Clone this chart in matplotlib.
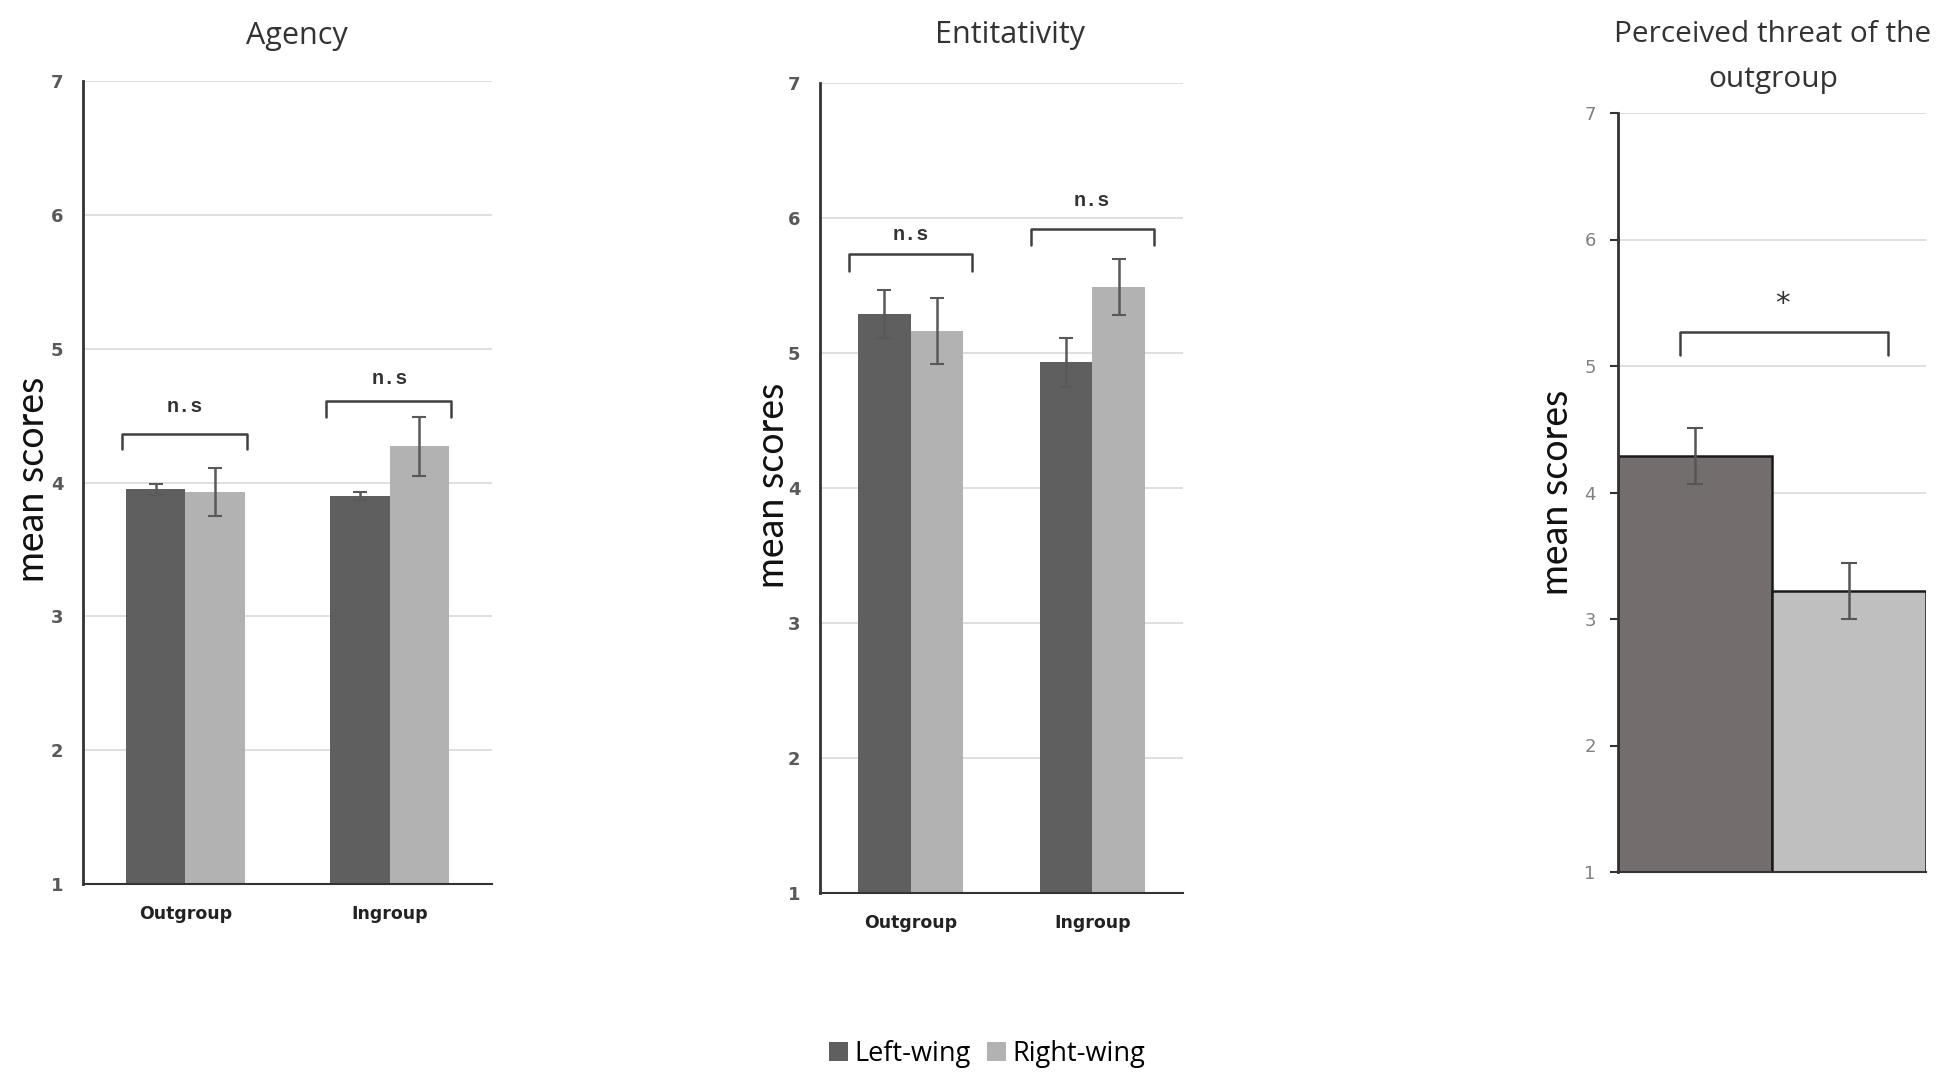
import matplotlib.pyplot as plt
from matplotlib.patches import Patch

# Данные
groups = ['Outgroup', 'Ingroup']
series = ['Left-wing', 'Right-wing']

agency_left = [3.95, 3.90]
agency_left_err = [0.04, 0.03]
agency_right = [3.93, 4.27]
agency_right_err = [0.18, 0.22]

entit_left = [5.29, 4.93]
entit_left_err = [0.18, 0.18]
entit_right = [5.16, 5.49]
entit_right_err = [0.245, 0.21]

threat_means = [4.29, 3.22]
threat_err = [0.22, 0.22]

yticks = [1, 2, 3, 4, 5, 6, 7]
sig_pairs = ['n.s', 'n.s']
sig_threat = '*'

DARK = '#5f5f5f'
LIGHT = '#b2b2b2'
GRID = '#d9d9d9'
W, H = 1951, 1084


def fx(px):
    return px / W


def fy(py):
    return 1 - py / H


def bracket(ax, x0, x1, ytop, yend, lw=1.8, color='#404040'):
    ax.plot([x0, x0, x1, x1], [yend, ytop, ytop, yend], color=color, lw=lw,
            solid_joinstyle='round', solid_capstyle='round', clip_on=False)


def style_axis(ax, tick_color='#595959', bold=True):
    ax.set_ylim(1, 7)
    ax.set_xlim(-0.5, 1.5)
    ax.set_yticks(yticks)
    ax.yaxis.grid(True, color=GRID, lw=1.2)
    ax.set_axisbelow(True)
    for s in ['top', 'right']:
        ax.spines[s].set_visible(False)
    ax.spines['left'].set_linewidth(2)
    ax.spines['left'].set_color('#333333')
    ax.spines['bottom'].set_linewidth(1.5)
    ax.spines['bottom'].set_color('#333333')
    ax.tick_params(axis='y', length=0, pad=14, labelsize=13, labelcolor=tick_color)
    for t in ax.get_yticklabels():
        t.set_fontweight('bold' if bold else 'normal')


def grouped(ax, left, left_err, right, right_err, bw=0.29):
    xs = range(len(groups))
    xl = [x - bw / 2 for x in xs]
    xr = [x + bw / 2 for x in xs]
    ax.bar(xl, [v - 1 for v in left], bw, bottom=1, color=DARK)
    ax.bar(xr, [v - 1 for v in right], bw, bottom=1, color=LIGHT)
    ax.errorbar(xl, left, yerr=left_err, fmt='none', ecolor='#595959', elinewidth=1.8, capsize=5, capthick=1.5)
    ax.errorbar(xr, right, yerr=right_err, fmt='none', ecolor='#595959', elinewidth=1.8, capsize=5, capthick=1.5)
    ax.set_xticks(list(xs))
    ax.set_xticklabels(groups, fontsize=12.5, fontweight='bold', color='#222222')
    ax.tick_params(axis='x', length=0, pad=15)


fig = plt.figure(figsize=(W / 100, H / 100), dpi=100)

# Agency
ax1 = fig.add_axes([fx(83), fy(884), fx(492 - 83), (884 - 81) / H])
style_axis(ax1)
grouped(ax1, agency_left, agency_left_err, agency_right, agency_right_err)
for i, (ytop, yend, ytxt) in enumerate([(4.36, 4.25, 4.57), (4.61, 4.49, 4.78)]):
    bracket(ax1, i - 0.31, i + 0.30, ytop, yend)
    ax1.text(i, ytxt, sig_pairs[i], ha='center', va='center', fontsize=14.5,
             fontweight='bold', family='Liberation Mono', color='#333333')

# Entitativity
ax2 = fig.add_axes([fx(820), fy(893), fx(1183 - 820), (893 - 83) / H])
style_axis(ax2)
grouped(ax2, entit_left, entit_left_err, entit_right, entit_right_err)
for i, (ytop, yend, ytxt) in enumerate([(5.73, 5.61, 5.88), (5.92, 5.80, 6.13)]):
    bracket(ax2, i - 0.34, i + 0.34, ytop, yend)
    ax2.text(i, ytxt, sig_pairs[i], ha='center', va='center', fontsize=14.5,
             fontweight='bold', family='Liberation Mono', color='#333333')

# Perceived threat
ax3 = fig.add_axes([fx(1618), fy(872), fx(1926 - 1618), (872 - 113) / H])
style_axis(ax3, tick_color='#808080', bold=False)
ax3.tick_params(axis='y', length=6, width=1.5, color='#333333', pad=10)
ax3.bar([0, 1], [v - 1 for v in threat_means], 1.0, bottom=1,
        color=['#736d6e', '#bfbfbf'], edgecolor='#1a1a1a', linewidth=1.8)
ax3.errorbar([0, 1], threat_means, yerr=threat_err, fmt='none', ecolor='#555555',
             elinewidth=1.8, capsize=6, capthick=1.5)
ax3.set_xticks([])
bracket(ax3, -0.10, 1.25, 5.27, 5.09)
ax3.text(0.565, 5.49, sig_threat, ha='center', va='center', fontsize=21, color='#333333')

# Заголовки и подписи осей
fig.text(fx(297), fy(36), 'Agency', ha='center', va='center', fontsize=22, family='Open Sans', color='#333333')
fig.text(fx(1010), fy(35), 'Entitativity', ha='center', va='center', fontsize=22, family='Open Sans', color='#333333')
fig.text(fx(1773), fy(34), 'Perceived threat of the', ha='center', va='center',
         fontsize=21.5, family='Open Sans', color='#333333')
fig.text(fx(1773), fy(79), 'outgroup', ha='center', va='center',
         fontsize=21.5, family='Open Sans', color='#333333')

for x, y in [(33, 479), (773, 485), (1557, 492)]:
    fig.text(fx(x), fy(y), 'mean scores', rotation=90, ha='center', va='center',
             fontsize=27, family='Lato', color='#111111')

handles = [Patch(facecolor=DARK, label=series[0]), Patch(facecolor=LIGHT, label=series[1])]
fig.legend(handles=handles, loc='center', bbox_to_anchor=(fx(987), fy(1054)), ncol=2, frameon=False,
           prop={'family': 'Open Sans', 'size': 19.5}, handlelength=0.7, handleheight=0.7,
           handletextpad=0.25, columnspacing=0.6)

fig.savefig('out.png', dpi=100)
